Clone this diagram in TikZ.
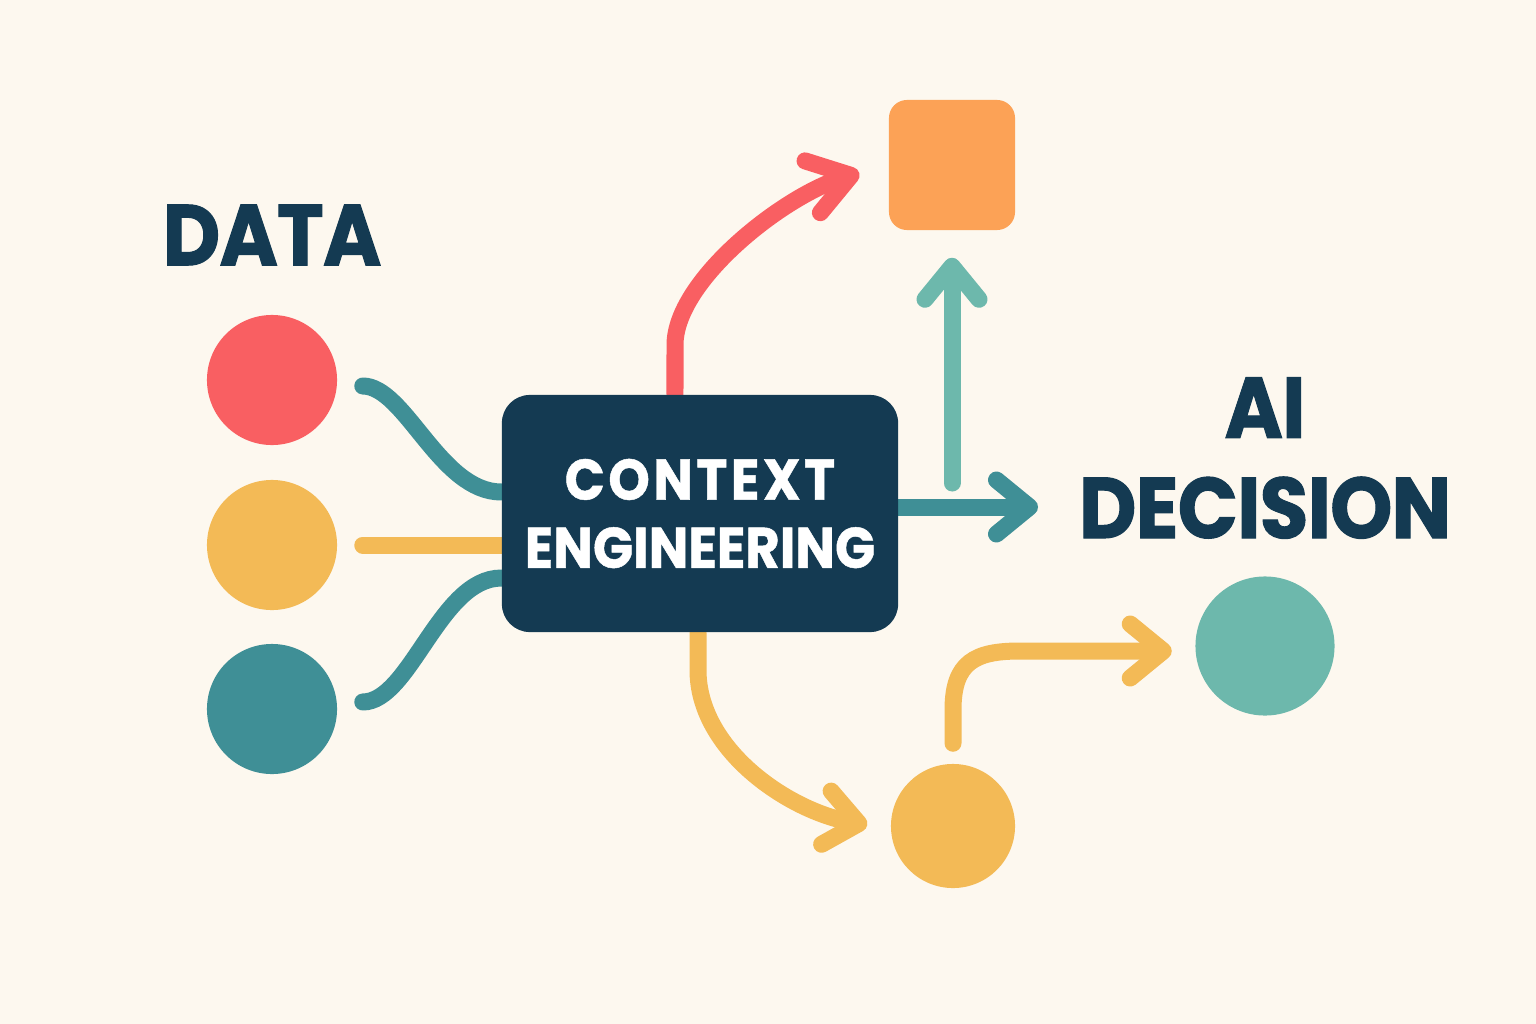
\documentclass[tikz,border=0pt]{standalone}
\usepackage{fontspec}
\newfontfamily\posterfont{Poppins}[FakeStretch=0.92, FakeBold=1.2, LetterSpace=-1]
\newfontfamily\boxfont{Poppins}[FakeStretch=0.92, FakeBold=0.8]
\newfontfamily\widefont{Poppins}[FakeStretch=0.92, FakeBold=0.8, LetterSpace=6]
\usetikzlibrary{arrows.meta}
\pgfdeclarelayer{wires}
\pgfsetlayers{wires,main}
\definecolor{paper}{HTML}{FDF8EF}
\definecolor{navy}{HTML}{143A52}
\definecolor{coral}{HTML}{F95F62}
\definecolor{mustard}{HTML}{F3BA56}
\definecolor{deepteal}{HTML}{3F8F96}
\definecolor{softteal}{HTML}{6DB8AC}
\definecolor{tangerine}{HTML}{FCA256}

\begin{document}
\begin{tikzpicture}[x=0.01cm, y=-0.01cm,
  >={Straight Barb[length=3.3mm, width=5.4mm, round]},
  flow/.style={line width=1.7mm, line cap=round},
  dot/.style={circle, inner sep=0pt},
  heading/.style={font=\posterfont\bfseries\fontsize{24.5}{28.5}\selectfont, text=navy, align=center, inner sep=0pt}]
  \useasboundingbox (0,0) rectangle (1536,1024);

  \node (data) at (272,235) [heading] {DATA};
  \node (red) at (272,380) [dot, fill=coral, minimum size=1.3cm] {};
  \node (yellow) at (272,545) [dot, fill=mustard, minimum size=1.3cm] {};
  \node (teal) at (272,709) [dot, fill=deepteal, minimum size=1.3cm] {};

  \node (ctx) at (700,513.5) [fill=navy, rounded corners=0.28cm, minimum width=3.96cm, minimum height=2.37cm,
    inner sep=0pt, align=center, text=white, font=\boxfont\bfseries\fontsize{16.3}{19.4}\selectfont]
    {{\widefont\bfseries CONTEXT}\\ENGINEERING};

  \node (sq) at (952,165) [fill=tangerine, rounded corners=0.18cm, minimum width=1.26cm, minimum height=1.3cm, inner sep=0pt] {};
  \node (ai) at (1265,458) [heading] {AI\\DECISION};
  \node (goalcirc) at (1265,646) [dot, fill=softteal, minimum size=1.39cm] {};
  \node (outcome) at (953,826) [dot, fill=mustard, minimum size=1.24cm] {};

  \coordinate (fork) at (952,483);
  \coordinate (goal) at (1038,507);

  \begin{pgfonlayer}{wires}
  \fill [paper] (0,0) rectangle (1536,1024);
  \draw [flow, deepteal] ([xshift=2.5mm, yshift=-0.6mm]red.east)
    .. controls (405,386) and (440,492) .. ([yshift=2.15mm]ctx.west);
  \draw [flow, mustard] ([xshift=2.5mm]yellow.east) -- (ctx.west |- yellow.east);
  \draw [flow, deepteal] ([xshift=2.5mm, yshift=0.7mm]teal.east)
    .. controls (410,702) and (440,578) .. ([yshift=-6.45mm]ctx.west);

  \draw [flow, coral, -{Straight Barb[length=4mm, width=5.4mm, round]}] ([xshift=-2.5mm]ctx.north) -- (675,345)
    .. controls (675,280) and (785,195) .. ([xshift=-2.9mm, yshift=-0.8mm]sq.west);
  \draw [flow, softteal, ->] (fork) -- ([yshift=-2.7mm]sq.south);
  \draw [flow, deepteal, ->] (ctx.east |- goal) -- (goal);
  \draw [flow, mustard, ->] ([xshift=-0.2mm]ctx.south) -- (698,670)
    .. controls (698,750) and (789,811) .. ([xshift=-2.3mm, yshift=0.1mm]outcome.west);
  \draw [flow, mustard, ->] ([yshift=2mm]outcome.north) -- (953,710)
    .. controls (953,662) and (975,651) .. (1020,651) -- ([xshift=-2.3mm, yshift=-0.5mm]goalcirc.west);
  \end{pgfonlayer}
\end{tikzpicture}
\end{document}
